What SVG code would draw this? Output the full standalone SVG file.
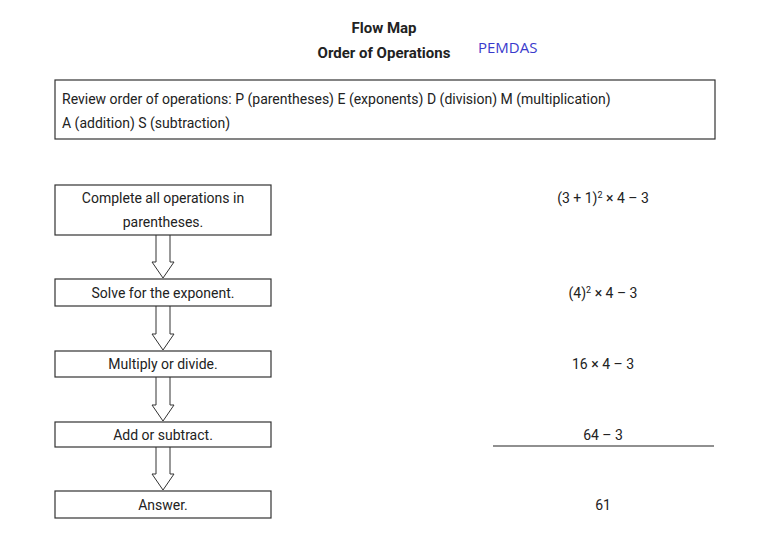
<svg xmlns="http://www.w3.org/2000/svg" width="773" height="560" viewBox="0 0 773 560">
<style>
text{font-family:"Liberation Sans Narrow","Roboto","Liberation Sans",sans-serif;font-size:14px;fill:#222}
.b{fill:#fff;stroke:#333;stroke-width:1.2}
.t{font-weight:bold;font-size:15px;text-anchor:middle}
.c{text-anchor:middle}
.ar{fill:#fff;stroke:#333;stroke-width:1}
</style>
<rect width="773" height="560" fill="#fff"/>
<text class="t" x="384" y="33">Flow Map</text>
<text class="t" x="384" y="58">Order of Operations</text>
<text x="478" y="53" style="font-family:'Open Sans',sans-serif;font-size:15px;fill:#3a3acc">PEMDAS</text>
<g id="header"><rect class="b" x="55" y="80" width="660" height="59"/>
<text x="62" y="104">Review order of operations: P (parentheses) E (exponents) D (division) M (multiplication)</text>
<text x="62" y="128">A (addition) S (subtraction)</text></g>
<g id="connectors">
<path class="ar" d="M156,235 V262 H152 L163,278 L174,262 H170 V235"/>
<path class="ar" d="M156,306 V334 H152 L163,350 L174,334 H170 V306"/>
<path class="ar" d="M156,377 V405 H152 L163,421 L174,405 H170 V377"/>
<path class="ar" d="M156,447 V474 H152 L163,490 L174,474 H170 V447"/>
<line x1="493" y1="446" x2="714" y2="446" stroke="#222" stroke-width="1.2"/>
</g>
<g id="n1"><rect class="b" x="55" y="185" width="216" height="50"/><text class="c" x="163" y="203">Complete all operations in</text><text class="c" x="163" y="227">parentheses.</text></g>
<g id="n2"><rect class="b" x="55" y="279" width="216" height="27"/><text class="c" x="163" y="298">Solve for the exponent.</text></g>
<g id="n3"><rect class="b" x="55" y="351" width="216" height="26"/><text class="c" x="163" y="369">Multiply or divide.</text></g>
<g id="n4"><rect class="b" x="55" y="422" width="216" height="25"/><text class="c" x="163" y="440">Add or subtract.</text></g>
<g id="n5"><rect class="b" x="55" y="491" width="216" height="27"/><text class="c" x="163" y="510">Answer.</text></g>
<g id="e1"><text class="c" x="603" y="203">(3 + 1)<tspan dy="-5" font-size="9">2</tspan><tspan dy="5"> × 4 – 3</tspan></text></g>
<g id="e2"><text class="c" x="603" y="298">(4)<tspan dy="-5" font-size="9">2</tspan><tspan dy="5"> × 4 – 3</tspan></text></g>
<g id="e3"><text class="c" x="603" y="369">16 × 4 – 3</text></g>
<g id="e4"><text class="c" x="603" y="440">64 – 3</text></g>
<g id="e5"><text class="c" x="603" y="510">61</text></g>
</svg>
